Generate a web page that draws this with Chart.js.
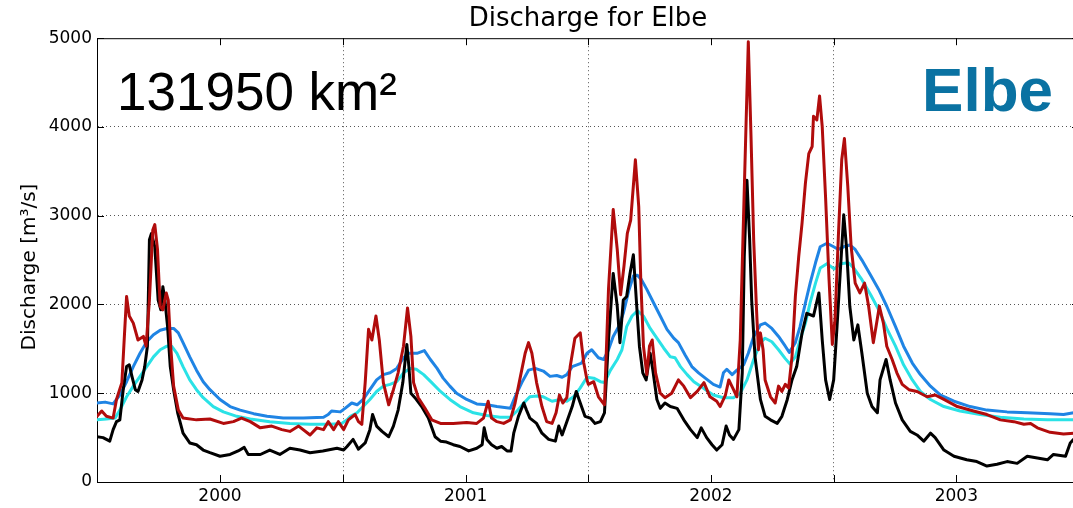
<!DOCTYPE html>
<html>
<head>
<meta charset="utf-8">
<script src="https://cdn.jsdelivr.net/npm/chart.js@4.4.1/dist/chart.umd.min.js"></script>
<style>
  html, body { margin: 0; padding: 0; background: #fff; overflow: hidden; }
  #wrap { width: 1085px; height: 508px; }
</style>
</head>
<body>
<div id="wrap"><canvas id="discharge-chart" width="1085" height="508"></canvas></div>
<script>
// x values are days since 2000-01-01
const yearStarts = [0, 366, 731, 1096, 1461]
const yearLabels = ['2000', '2001', '2002', '2003']
const yTicks = [0, 1000, 2000, 3000, 4000, 5000]

const blackDays = [0, 9, 19, 24, 29, 34, 39, 44, 48, 52, 57, 61, 67, 71, 75, 78, 81, 86, 91, 95, 98, 101, 105, 109, 114, 120, 128, 138, 148, 158, 168, 183, 198, 210, 219, 225, 243, 257, 272, 287, 302, 317, 336, 357, 367, 372, 381, 389, 399, 406, 410, 416, 424, 434, 441, 448, 455, 461, 464, 467, 473, 483, 493, 503, 511, 520, 530, 540, 553, 565, 573, 576, 580, 587, 595, 602, 610, 616, 620, 627, 635, 639, 644, 654, 662, 672, 682, 687, 692, 699, 707, 713, 719, 726, 734, 741, 749, 755, 761, 768, 774, 778, 783, 788, 793, 798, 803, 807, 812, 817, 823, 827, 833, 838, 845, 853, 863, 873, 883, 893, 899, 907, 915, 922, 930, 936, 941, 947, 955, 960, 963, 967, 971, 974, 979, 987, 994, 1002, 1012, 1019, 1027, 1034, 1041, 1049, 1056, 1066, 1074, 1079, 1084, 1090, 1096, 1101, 1106, 1111, 1115, 1120, 1126, 1132, 1138, 1146, 1153, 1161, 1165, 1174, 1180, 1188, 1198, 1210, 1220, 1230, 1240, 1247, 1260, 1275, 1294, 1309, 1324, 1339, 1354, 1369, 1384, 1399, 1414, 1423, 1441, 1448, 1453, 1461]
const blackQ = [510, 500, 460, 590, 680, 700, 1040, 1300, 1320, 1190, 1040, 1020, 1150, 1300, 1530, 2730, 2800, 2650, 2050, 1940, 2200, 2050, 1750, 1300, 1040, 780, 550, 440, 420, 360, 330, 290, 310, 350, 390, 310, 310, 360, 310, 380, 360, 330, 350, 380, 360, 400, 480, 370, 440, 590, 760, 630, 570, 510, 630, 810, 1120, 1550, 1300, 1000, 950, 850, 720, 510, 460, 450, 420, 400, 350, 380, 420, 610, 480, 420, 380, 400, 350, 350, 550, 740, 890, 810, 720, 660, 550, 480, 460, 630, 530, 680, 850, 1020, 890, 740, 720, 660, 680, 780, 1600, 2350, 1980, 1570, 2050, 2090, 2350, 2560, 1980, 1530, 1230, 1150, 1450, 1260, 930, 830, 890, 850, 830, 700, 590, 500, 610, 500, 420, 360, 420, 630, 530, 480, 590, 1230, 2540, 3400, 2730, 2050, 1410, 930, 740, 700, 660, 740, 930, 1150, 1300, 1680, 1900, 1870, 2130, 1600, 1150, 930, 1150, 1750, 2390, 3010, 2650, 1980, 1600, 1770, 1450, 1000, 850, 780, 1150, 1380, 1150, 890, 700, 570, 530, 460, 550, 500, 360, 290, 250, 230, 180, 200, 230, 210, 290, 270, 250, 310, 290, 440, 480, 480]

const redDays = [0, 7, 14, 24, 29, 37, 41, 44, 48, 54, 61, 69, 73, 78, 83, 86, 90, 94, 98, 103, 106, 110, 114, 121, 128, 148, 168, 188, 203, 215, 228, 243, 260, 275, 287, 300, 317, 327, 337, 344, 352, 359, 367, 374, 384, 389, 394, 399, 404, 409, 415, 420, 426, 434, 441, 448, 456, 462, 467, 471, 478, 488, 498, 511, 530, 550, 565, 575, 582, 587, 595, 605, 615, 622, 630, 637, 642, 647, 654, 662, 669, 677, 683, 688, 693, 699, 704, 711, 719, 724, 729, 731, 739, 746, 755, 761, 768, 774, 779, 784, 789, 794, 801, 806, 809, 813, 818, 822, 826, 831, 838, 845, 855, 865, 873, 883, 893, 903, 912, 922, 927, 935, 940, 947, 952, 957, 961, 965, 969, 973, 977, 981, 984, 987, 991, 994, 1002, 1009, 1014, 1019, 1024, 1029, 1034, 1039, 1044, 1049, 1054, 1059, 1064, 1066, 1071, 1075, 1079, 1084, 1089, 1094, 1098, 1103, 1108, 1112, 1117, 1122, 1128, 1135, 1142, 1148, 1155, 1159, 1164, 1170, 1175, 1183, 1190, 1198, 1208, 1220, 1235, 1247, 1260, 1280, 1304, 1324, 1344, 1364, 1379, 1389, 1399, 1418, 1438, 1453, 1461]
const redQ = [740, 800, 740, 720, 930, 1120, 1680, 2090, 1870, 1790, 1600, 1640, 1530, 2050, 2840, 2900, 2620, 1980, 1940, 2130, 2050, 1490, 1080, 810, 720, 700, 710, 660, 680, 720, 680, 610, 630, 590, 570, 630, 530, 610, 590, 680, 590, 680, 590, 700, 760, 680, 650, 1120, 1720, 1600, 1870, 1600, 1120, 870, 1040, 1230, 1530, 1960, 1640, 1120, 950, 830, 700, 660, 660, 670, 660, 720, 910, 720, 680, 660, 700, 890, 1190, 1450, 1570, 1450, 1120, 850, 680, 660, 780, 980, 890, 950, 1300, 1620, 1680, 1350, 1150, 1100, 1130, 960, 870, 2170, 3070, 2620, 2110, 2430, 2800, 2950, 3630, 3100, 2280, 1530, 1210, 1530, 1600, 1230, 1000, 950, 1000, 1150, 1080, 950, 1020, 1120, 960, 910, 850, 980, 1150, 1040, 960, 1600, 2730, 3850, 4960, 3900, 2730, 1980, 1490, 1680, 1490, 1150, 960, 890, 1080, 1020, 1100, 1060, 1410, 2090, 2540, 2920, 3370, 3700, 3780, 4120, 4080, 4350, 4000, 3200, 2300, 1550, 1830, 2770, 3630, 3870, 3330, 2650, 2240, 2130, 2240, 1980, 1570, 1750, 1980, 1790, 1530, 1380, 1230, 1100, 1040, 1020, 960, 980, 930, 850, 800, 760, 700, 680, 650, 660, 610, 560, 540, 550, 550]

const blueDays = [0, 12, 24, 34, 44, 54, 64, 74, 84, 94, 104, 114, 121, 128, 138, 148, 158, 168, 183, 198, 213, 233, 253, 277, 307, 337, 344, 349, 362, 369, 379, 387, 396, 406, 416, 426, 436, 446, 456, 463, 476, 487, 496, 506, 515, 525, 535, 550, 565, 580, 595, 615, 622, 632, 642, 652, 664, 674, 684, 692, 699, 707, 714, 721, 729, 736, 746, 754, 761, 768, 776, 783, 791, 798, 804, 810, 818, 828, 838, 848, 858, 865, 875, 885, 895, 905, 917, 927, 932, 937, 945, 952, 962, 969, 977, 987, 994, 1004, 1014, 1024, 1030, 1039, 1046, 1054, 1061, 1069, 1076, 1086, 1096, 1103, 1111, 1120, 1128, 1138, 1151, 1163, 1175, 1188, 1200, 1213, 1225, 1240, 1255, 1275, 1299, 1324, 1354, 1384, 1418, 1438, 1453, 1461]
const blueQ = [890, 900, 880, 980, 1130, 1300, 1450, 1580, 1660, 1710, 1730, 1730, 1680, 1570, 1410, 1260, 1130, 1040, 930, 850, 810, 770, 740, 720, 720, 730, 760, 800, 790, 830, 890, 870, 930, 1040, 1150, 1210, 1230, 1280, 1400, 1450, 1450, 1480, 1380, 1280, 1170, 1080, 1000, 930, 880, 870, 850, 830, 960, 1120, 1260, 1280, 1250, 1190, 1200, 1180, 1210, 1300, 1320, 1340, 1450, 1490, 1400, 1380, 1490, 1640, 1750, 1900, 2150, 2320, 2330, 2280, 2170, 2020, 1870, 1720, 1620, 1570, 1430, 1300, 1230, 1170, 1100, 1070, 1230, 1270, 1210, 1260, 1320, 1450, 1640, 1770, 1790, 1730, 1640, 1530, 1460, 1570, 1750, 2020, 2240, 2470, 2650, 2690, 2650, 2620, 2650, 2670, 2620, 2500, 2330, 2170, 1980, 1750, 1530, 1340, 1210, 1080, 980, 910, 850, 810, 790, 780, 770, 760, 780, 790]

const cyanDays = [0, 14, 27, 34, 44, 54, 64, 74, 84, 94, 104, 111, 119, 128, 138, 148, 158, 173, 188, 208, 228, 257, 287, 317, 347, 364, 372, 377, 387, 396, 406, 416, 426, 436, 446, 456, 466, 475, 486, 498, 511, 525, 540, 560, 580, 600, 615, 625, 635, 644, 654, 664, 677, 689, 699, 709, 719, 729, 739, 749, 755, 764, 774, 781, 788, 796, 804, 813, 823, 833, 843, 853, 860, 868, 878, 888, 898, 907, 917, 932, 947, 957, 967, 977, 987, 994, 1004, 1014, 1024, 1031, 1039, 1046, 1054, 1061, 1069, 1076, 1086, 1097, 1106, 1118, 1126, 1138, 1151, 1163, 1175, 1188, 1200, 1213, 1225, 1240, 1260, 1284, 1314, 1344, 1379, 1414, 1453, 1461]
const cyanQ = [700, 710, 720, 810, 960, 1080, 1190, 1300, 1410, 1490, 1530, 1530, 1450, 1300, 1150, 1040, 950, 850, 790, 740, 710, 680, 660, 650, 650, 660, 700, 740, 780, 850, 930, 1020, 1080, 1100, 1130, 1230, 1280, 1270, 1210, 1120, 1020, 930, 850, 780, 750, 730, 730, 800, 890, 960, 970, 960, 910, 930, 910, 960, 1060, 1180, 1170, 1130, 1120, 1260, 1380, 1490, 1750, 1870, 1930, 1870, 1730, 1620, 1510, 1410, 1400, 1300, 1210, 1130, 1080, 1030, 980, 950, 950, 1000, 1150, 1380, 1570, 1620, 1580, 1490, 1390, 1330, 1410, 1600, 1790, 2020, 2240, 2410, 2460, 2400, 2460, 2470, 2410, 2280, 2110, 1940, 1730, 1530, 1320, 1150, 1020, 930, 850, 800, 760, 730, 710, 700, 700, 700]

const toPoints = (days, q) => days.map((d, i) => ({ x: d, y: q[i] }))

const midYears = yearLabels.map((_, i) => (yearStarts[i] + yearStarts[i + 1]) / 2)
const xTickValues = [...yearStarts, ...midYears].sort((a, b) => a - b)
const innerYearStarts = yearStarts.slice(1, -1)
const gridDots = '#555'

const frame = {
  id: 'frame',
  afterDatasetsDraw(chart) {
    const { ctx, chartArea: a, scales: { x, y } } = chart
    ctx.save()
    ctx.strokeStyle = '#000'
    ctx.lineWidth = 1
    ctx.beginPath()
    ctx.moveTo(a.left, a.top + 0.5)
    ctx.lineTo(a.right, a.top + 0.5)
    ctx.moveTo(a.right - 0.5, a.top)
    ctx.lineTo(a.right - 0.5, a.bottom)
    x.ticks.forEach(t => {
      const px = Math.round(x.getPixelForValue(t.value)) + 0.5
      ctx.moveTo(px, a.bottom)
      ctx.lineTo(px, a.bottom - 7)
      ctx.moveTo(px, a.top)
      ctx.lineTo(px, a.top + 7)
    })
    y.ticks.forEach(t => {
      const py = Math.round(y.getPixelForValue(t.value)) + 0.5
      ctx.moveTo(a.left, py)
      ctx.lineTo(a.left + 7, py)
      ctx.moveTo(a.right, py)
      ctx.lineTo(a.right - 7, py)
    })
    ctx.stroke()
    ctx.restore()
  },
  afterDraw(chart) {
    const { ctx } = chart
    ctx.save()
    ctx.textBaseline = 'alphabetic'
    ctx.fillStyle = '#000'
    ctx.textAlign = 'left'
    ctx.font = '53px "Liberation Sans", Arial, sans-serif'
    ctx.fillText('131950 km²', 117, 110)
    ctx.fillStyle = '#0a72a2'
    ctx.textAlign = 'right'
    ctx.font = 'bold 62px "Liberation Sans", Arial, sans-serif'
    ctx.fillText('Elbe', 1053, 111)
    // y axis title, set a little below the plot centre as in the original
    ctx.fillStyle = '#000'
    ctx.textAlign = 'center'
    ctx.textBaseline = 'middle'
    ctx.font = '20px "DejaVu Sans"'
    ctx.translate(30, 267)
    ctx.rotate(-Math.PI / 2)
    ctx.fillText('Discharge [m³/s]', 0, 0)
    ctx.restore()
  }
}

const line = (label, data, color) => ({
  label,
  data,
  borderColor: color,
  borderWidth: 3,
  pointRadius: 0,
  tension: 0,
  fill: false,
  borderJoinStyle: 'round',
  borderCapStyle: 'round'
})

const dischargeChart = new Chart(document.getElementById('discharge-chart'), {
  type: 'line',
  data: {
    datasets: [
      line('model 1', toPoints(redDays, redQ), '#b10c0c'),
      line('observed', toPoints(blackDays, blackQ), '#000000'),
      line('model 2', toPoints(blueDays, blueQ), '#1f84e4'),
      line('model 3', toPoints(cyanDays, cyanQ), '#2ae2e6')
    ]
  },
  options: {
    responsive: false,
    animation: false,
    devicePixelRatio: 1,
    layout: { padding: { left: 0, right: 6, top: 0, bottom: 0 } },
    plugins: {
      legend: { display: false },
      tooltip: { enabled: false },
      title: {
        display: true,
        text: 'Discharge for Elbe',
        fullSize: false,
        color: '#000',
        font: { family: '"DejaVu Sans"', size: 26, weight: 'normal' },
        padding: { top: 4, bottom: 3 }
      }
    },
    scales: {
      x: {
        type: 'linear',
        min: yearStarts[0],
        max: yearStarts[yearStarts.length - 1],
        afterBuildTicks: scale => { scale.ticks = xTickValues.map(v => ({ value: v })) },
        afterFit: scale => { scale.height = 26 },
        grid: {
          drawTicks: false,
          color: c => (c.tick && innerYearStarts.includes(c.tick.value)) ? gridDots : 'rgba(0,0,0,0)'
        },
        border: { display: true, color: '#000', width: 1, dash: [1, 3] },
        ticks: {
          autoSkip: false,
          maxRotation: 0,
          padding: 4,
          color: '#000',
          font: { family: '"DejaVu Sans"', size: 17 },
          callback: v => {
            const i = midYears.indexOf(v)
            return i >= 0 ? yearLabels[i] : ''
          }
        }
      },
      y: {
        min: yTicks[0],
        max: yTicks[yTicks.length - 1],
        afterBuildTicks: scale => { scale.ticks = yTicks.map(v => ({ value: v })) },
        afterFit: scale => { scale.width = 97 },
        grid: {
          drawTicks: false,
          color: c => (c.tick && c.tick.value > yTicks[0] && c.tick.value < yTicks[yTicks.length - 1]) ? gridDots : 'rgba(0,0,0,0)'
        },
        border: { display: true, color: '#000', width: 1, dash: [1, 3] },
        ticks: {
          padding: 5,
          color: '#000',
          font: { family: '"DejaVu Sans"', size: 17 },
          callback: v => String(v)
        }
      }
    }
  },
  plugins: [frame]
})
</script>
</body>
</html>
